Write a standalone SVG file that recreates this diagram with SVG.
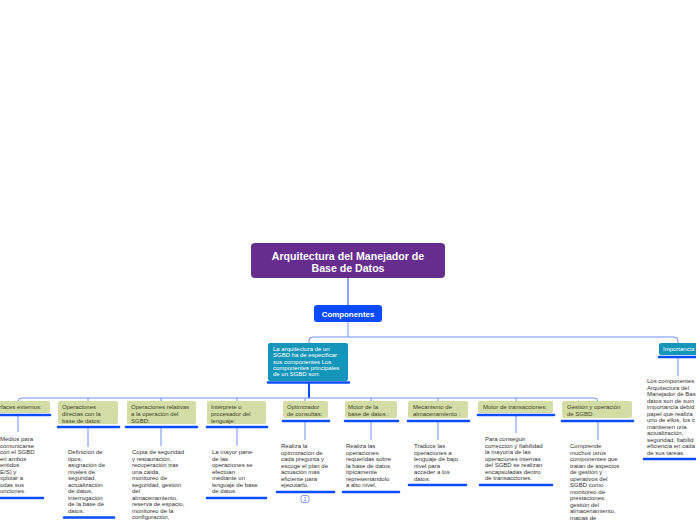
<svg xmlns="http://www.w3.org/2000/svg" width="696" height="520" viewBox="0 0 696 520">
<style>
text{font-family:"Liberation Sans",Arial,sans-serif}
.t{font-size:6px;fill:#333}
.g{fill:#d4dda6}
.gt{font-size:6px;fill:#3d4428}
.bar{stroke:#0b4dff;stroke-width:2.6;stroke-linecap:round;fill:none}
.c{stroke:#6f8fff;stroke-width:1;fill:none}
.cd{stroke:#3d69ff;stroke-width:1.2;fill:none}
.wt{font-size:6px;fill:#fff}
</style>
<rect width="696" height="520" fill="#fff"/>
<g id="connectors">
<path class="cd" d="M348 278V305"/>
<path class="c" d="M348 322V337"/>
<path class="c" d="M309 343V341Q309 337 313 337H674Q678 337 678 341V343"/>
<path d="M309 383V398" stroke="#0b4dff" stroke-width="2" fill="none"/>
<path class="c" stroke="#5a7dff" d="M18 401V402Q18 398 22 398H594Q598 398 598 402V401"/>
<path class="c" d="M88 398V401M161 398V401M237 398V401M305 398V401M371 398V401M438 398V401M516 398V401"/>
<path class="c" d="M18 416V432M88 428V447M161 428V446M237 428V446M305 422V440M371 422V440M438 422V440M516 416V433M598 422V440M678 358V376"/>
</g>
<g id="title">
<rect x="251" y="243" width="194" height="35" rx="4" fill="#662d8f"/>
<text x="348" y="259.5" font-size="10.6" font-weight="bold" fill="#fff" text-anchor="middle">Arquitectura del Manejador de</text>
<text x="348" y="271.5" font-size="10.6" font-weight="bold" fill="#fff" text-anchor="middle">Base de Datos</text>
</g>
<g id="componentes">
<rect x="314" y="305" width="68" height="17" rx="3" fill="#0a4bff"/>
<text x="348" y="316.5" font-size="7.9" font-weight="bold" fill="#fff" text-anchor="middle">Componentes</text>
</g>
<g id="arquitectura">
<rect x="268" y="343" width="80" height="38" rx="2" fill="#1496bb"/>
<text class="wt" x="273" y="351"><tspan x="273">La arquitectura de un</tspan><tspan x="273" dy="6.3">SGBD ha de especificar</tspan><tspan x="273" dy="6.3">sus componentes Los</tspan><tspan x="273" dy="6.3">componentes principales</tspan><tspan x="273" dy="6.3">de un SGBD son:</tspan></text>
<path class="bar" d="M268 382.5H349"/>
</g>
<g id="importancia">
<rect x="659" y="343" width="45" height="12" rx="2" fill="#1496bb"/>
<text class="wt" x="663" y="351">Importancia</text>
<path class="bar" d="M659 357H697"/>
<text class="t" x="647" y="383"><tspan x="647">Los componentes</tspan><tspan x="647" dy="6.5">Arquitectura del</tspan><tspan x="647" dy="6.5">Manejador de Bas</tspan><tspan x="647" dy="6.5">datos son de sum</tspan><tspan x="647" dy="6.5">importancia debid</tspan><tspan x="647" dy="6.5">papel que realiza</tspan><tspan x="647" dy="6.5">uno de ellos, los c</tspan><tspan x="647" dy="6.5">mantienen una</tspan><tspan x="647" dy="6.5">actualización,</tspan><tspan x="647" dy="6.5">seguridad, fiabilid</tspan><tspan x="647" dy="6.5">eficiencia en cada</tspan><tspan x="647" dy="6.5">de sus tareas.</tspan></text>
<path class="bar" d="M644 459H697"/>
</g>
<g id="interfaces">
<rect class="g" x="-14" y="401" width="64" height="12" rx="2"/>
<text class="gt" x="-1" y="409">rfaces externos:</text>
<path class="bar" d="M-5 415H50"/>
<text class="t" x="0" y="441"><tspan x="0">Medios para</tspan><tspan x="0" dy="6.5">comunicarse</tspan><tspan x="0" dy="6.5">con el SGBD</tspan><tspan x="0" dy="6.5">en ambos</tspan><tspan x="0" dy="6.5">entidos</tspan><tspan x="0" dy="6.5">E/S) y</tspan><tspan x="0" dy="6.5">xplotar a</tspan><tspan x="0" dy="6.5">odas sus</tspan><tspan x="0" dy="6.5">unciones.</tspan></text>
<path class="bar" d="M0 498H43"/>
</g>
<g id="op-directas">
<rect class="g" x="58" y="401" width="60" height="23" rx="2"/>
<text class="gt" x="62" y="409"><tspan x="62">Operaciones</tspan><tspan x="62" dy="7">directas con la</tspan><tspan x="62" dy="7">base de datos:</tspan></text>
<path class="bar" d="M58 427H119"/>
<text class="t" x="68" y="454"><tspan x="68">Definición de</tspan><tspan x="68" dy="6.5">tipos,</tspan><tspan x="68" dy="6.5">asignación de</tspan><tspan x="68" dy="6.5">niveles de</tspan><tspan x="68" dy="6.5">seguridad,</tspan><tspan x="68" dy="6.5">actualización</tspan><tspan x="68" dy="6.5">de datos,</tspan><tspan x="68" dy="6.5">interrogación</tspan><tspan x="68" dy="6.5">de la base de</tspan><tspan x="68" dy="6.5">datos.</tspan></text>
<path class="bar" d="M64 517.5H114"/>
</g>
<g id="op-relativas">
<rect class="g" x="127" y="401" width="69" height="23" rx="2"/>
<text class="gt" x="131" y="409"><tspan x="131">Operaciones relativas</tspan><tspan x="131" dy="7">a la operación del</tspan><tspan x="131" dy="7">SGBD:</tspan></text>
<path class="bar" d="M126 427H197"/>
<text class="t" x="132" y="454"><tspan x="132">Copia de seguridad</tspan><tspan x="132" dy="6.5">y restauración,</tspan><tspan x="132" dy="6.5">recuperación tras</tspan><tspan x="132" dy="6.5">una caída,</tspan><tspan x="132" dy="6.5">monitoreo de</tspan><tspan x="132" dy="6.5">seguridad, gestión</tspan><tspan x="132" dy="6.5">del</tspan><tspan x="132" dy="6.5">almacenamiento,</tspan><tspan x="132" dy="6.5">reserva de espacio,</tspan><tspan x="132" dy="6.5">monitoreo de la</tspan><tspan x="132" dy="6.5">configuración,</tspan></text>
</g>
<g id="interprete">
<rect class="g" x="207" y="401" width="59" height="23" rx="2"/>
<text class="gt" x="211" y="409"><tspan x="211">Intérprete o</tspan><tspan x="211" dy="7">procesador del</tspan><tspan x="211" dy="7">lenguaje:</tspan></text>
<path class="bar" d="M207 427H267"/>
<text class="t" x="212" y="454"><tspan x="212">La mayor parte</tspan><tspan x="212" dy="6.5">de las</tspan><tspan x="212" dy="6.5">operaciones se</tspan><tspan x="212" dy="6.5">efectúan</tspan><tspan x="212" dy="6.5">mediante un</tspan><tspan x="212" dy="6.5">lenguaje de base</tspan><tspan x="212" dy="6.5">de datos.</tspan></text>
<path class="bar" d="M207 498H266"/>
</g>
<g id="optimizador">
<rect class="g" x="283" y="401" width="45" height="17" rx="2"/>
<text class="gt" x="287" y="409"><tspan x="287">Optimizador</tspan><tspan x="287" dy="7">de consultas:</tspan></text>
<path class="bar" d="M283 421H329"/>
<text class="t" x="281" y="448"><tspan x="281">Realiza la</tspan><tspan x="281" dy="6.5">optimización de</tspan><tspan x="281" dy="6.5">cada pregunta y</tspan><tspan x="281" dy="6.5">escoge el plan de</tspan><tspan x="281" dy="6.5">actuación más</tspan><tspan x="281" dy="6.5">eficiente para</tspan><tspan x="281" dy="6.5">ejecutarlo.</tspan></text>
<path class="bar" d="M277 492H334"/>
<rect x="301" y="495.5" width="8" height="7" rx="2" fill="#fff" stroke="#5a7dff" stroke-width="0.8"/>
<text x="305" y="501" font-size="5" fill="#3d69ff" text-anchor="middle">1</text>
</g>
<g id="motor-bd">
<rect class="g" x="345" y="401" width="52" height="17" rx="2"/>
<text class="gt" x="348" y="409"><tspan x="348">Motor de la</tspan><tspan x="348" dy="7">base de datos :</tspan></text>
<path class="bar" d="M345 421H398"/>
<text class="t" x="346" y="448"><tspan x="346">Realiza las</tspan><tspan x="346" dy="6.5">operaciones</tspan><tspan x="346" dy="6.5">requeridas sobre</tspan><tspan x="346" dy="6.5">la base de datos,</tspan><tspan x="346" dy="6.5">típicamente</tspan><tspan x="346" dy="6.5">representándolo</tspan><tspan x="346" dy="6.5">a alto nivel.</tspan></text>
<path class="bar" d="M343 492H399"/>
</g>
<g id="mecanismo">
<rect class="g" x="408" y="401" width="60" height="17" rx="2"/>
<text class="gt" x="413" y="409"><tspan x="413">Mecanismo de</tspan><tspan x="413" dy="7">almacenamiento :</tspan></text>
<path class="bar" d="M408 421H469"/>
<text class="t" x="414" y="448"><tspan x="414">Traduce las</tspan><tspan x="414" dy="6.5">operaciones a</tspan><tspan x="414" dy="6.5">lenguaje de bajo</tspan><tspan x="414" dy="6.5">nivel para</tspan><tspan x="414" dy="6.5">acceder a los</tspan><tspan x="414" dy="6.5">datos.</tspan></text>
<path class="bar" d="M409 485H466"/>
</g>
<g id="motor-transacciones">
<rect class="g" x="478" y="401" width="75" height="12" rx="2"/>
<text class="gt" x="483" y="409">Motor de transacciones:</text>
<path class="bar" d="M478 415H554"/>
<text class="t" x="485" y="441"><tspan x="485">Para conseguir</tspan><tspan x="485" dy="6.5">corrección y fiabilidad</tspan><tspan x="485" dy="6.5">la mayoría de las</tspan><tspan x="485" dy="6.5">operaciones internas</tspan><tspan x="485" dy="6.5">del SGBD se realizan</tspan><tspan x="485" dy="6.5">encapsuladas dentro</tspan><tspan x="485" dy="6.5">de transacciones.</tspan></text>
<path class="bar" d="M480 485H552"/>
</g>
<g id="gestion">
<rect class="g" x="562" y="401" width="70" height="17" rx="2"/>
<text class="gt" x="567" y="409"><tspan x="567">Gestión y operación</tspan><tspan x="567" dy="7">de SGBD:</tspan></text>
<path class="bar" d="M562 421H633"/>
<text class="t" x="570" y="448"><tspan x="570">Comprende</tspan><tspan x="570" dy="6.5">muchos otros</tspan><tspan x="570" dy="6.5">componentes que</tspan><tspan x="570" dy="6.5">tratan de aspectos</tspan><tspan x="570" dy="6.5">de gestión y</tspan><tspan x="570" dy="6.5">operativos del</tspan><tspan x="570" dy="6.5">SGBD como</tspan><tspan x="570" dy="6.5">monitoreo de</tspan><tspan x="570" dy="6.5">prestaciones,</tspan><tspan x="570" dy="6.5">gestión del</tspan><tspan x="570" dy="6.5">almacenamiento,</tspan><tspan x="570" dy="6.5">mapas de</tspan></text>
</g>
</svg>
